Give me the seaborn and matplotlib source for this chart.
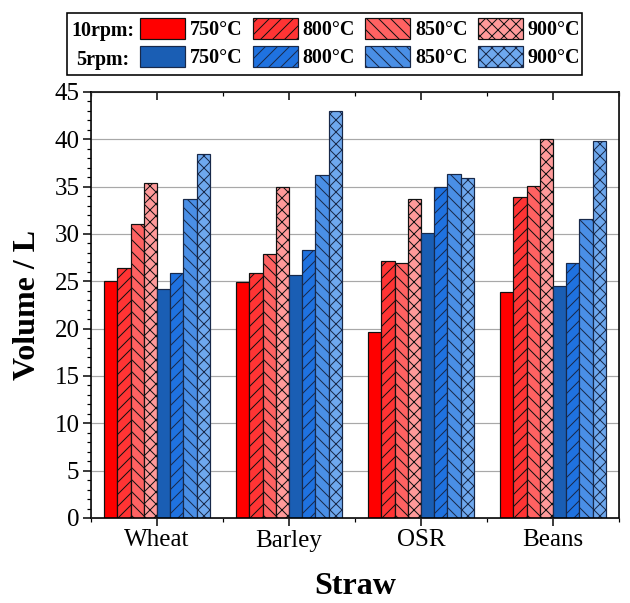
import matplotlib
matplotlib.use("Agg")
import numpy as np
import pandas as pd
import matplotlib.pyplot as plt
import seaborn as sns
from matplotlib.patches import Patch, Rectangle
from matplotlib.ticker import MultipleLocator, FixedLocator

straws = ["Wheat", "Barley", "OSR", "Beans"]
temps = ["750°C", "800°C", "850°C", "900°C"]

# gas volume (L)
v10_750 = [25.0, 24.9, 19.6, 23.9]
v10_800 = [26.4, 25.9, 27.2, 33.9]
v10_850 = [31.1, 27.9, 26.9, 35.1]
v10_900 = [35.35, 35.0, 33.7, 40.0]
v5_750 = [24.2, 25.7, 30.1, 24.5]
v5_800 = [25.9, 28.3, 35.0, 26.9]
v5_850 = [33.7, 36.2, 36.3, 31.6]
v5_900 = [38.5, 43.0, 35.9, 39.8]

red_cols = ["#ff0000", "#ff3434", "#ff6262", "#ff9a9a"]
blue_cols = ["#1a5eb4", "#1f72e0", "#4a8fe6", "#6ea8ee"]
hatches = ["", "//", "\\\\", "xx"]

series = {
    "10rpm 750°C": v10_750, "10rpm 800°C": v10_800, "10rpm 850°C": v10_850, "10rpm 900°C": v10_900,
    "5rpm 750°C": v5_750, "5rpm 800°C": v5_800, "5rpm 850°C": v5_850, "5rpm 900°C": v5_900,
}
rows = []
for name, vals in series.items():
    for s, v in zip(straws, vals):
        rows.append({"Straw": s, "series": name, "Volume": v})
df = pd.DataFrame(rows)
hue_order = list(series.keys())
palette = red_cols + blue_cols

sns.set_style("ticks")
plt.rcParams["font.family"] = ["Liberation Serif", "DejaVu Serif"]
plt.rcParams["hatch.linewidth"] = 1.0
for k in ["text.color", "axes.labelcolor", "xtick.color", "ytick.color"]:
    plt.rcParams[k] = "black"

fig = plt.figure(figsize=(630 / 72, 603 / 72), dpi=72)
ax = fig.add_axes([91 / 630, 1 - 518 / 603, 528 / 630, 426 / 603])

sns.barplot(data=df, x="Straw", y="Volume", hue="series", hue_order=hue_order,
            order=straws, palette=palette, width=0.8, gap=0, legend=False,
            saturation=1, errorbar=None, ax=ax)

for i, cont in enumerate(ax.containers):
    ec = "#111111" if i < 4 else "#18294a"
    for bar in cont:
        bar.set_hatch(hatches[i % 4])
        bar.set_edgecolor(ec)
        bar.set_linewidth(1.2)

ax.set_xlim(-0.5, 3.5)
ax.set_ylim(0, 45)
ax.yaxis.set_major_locator(MultipleLocator(5))
ax.yaxis.set_minor_locator(MultipleLocator(1))
ax.xaxis.set_minor_locator(FixedLocator(np.arange(-0.5, 4, 1)))
ax.set_axisbelow(True)
ax.grid(axis="y", which="major", color="#a8a8a8", lw=1.2)
ax.tick_params(axis="both", which="major", direction="out", length=8, width=1.5, labelsize=25)
ax.tick_params(axis="both", which="minor", direction="out", length=4, width=1.2)
for sp in ax.spines.values():
    sp.set_visible(True)
    sp.set_linewidth(1.6)
    sp.set_color("black")

top = ax.twiny()
top.set_xlim(ax.get_xlim())
top.set_xticks(range(4))
top.xaxis.set_minor_locator(FixedLocator(np.arange(-0.5, 4, 1)))
top.tick_params(axis="x", which="major", direction="in", length=8, width=1.5, labeltop=False)
top.tick_params(axis="x", which="minor", direction="in", length=4, width=1.2)

ax.set_xlabel("Straw", fontsize=32, fontweight="bold", labelpad=20)
ax.set_ylabel("Volume / L", fontsize=32, fontweight="bold", labelpad=12)

handles, labels = [], []
for j in range(4):
    handles.append(Patch(facecolor=red_cols[j], hatch=hatches[j], edgecolor="#111111", lw=1.2))
    handles.append(Patch(facecolor=blue_cols[j], hatch=hatches[j], edgecolor="#18294a", lw=1.2))
    labels += [temps[j], temps[j]]
fig.legend(handles, labels, ncol=4, loc="upper left", bbox_to_anchor=(140 / 630, 1 - 18 / 603),
           frameon=False, borderpad=0, borderaxespad=0, handlelength=2.25, handleheight=1.2,
           handletextpad=0.25, columnspacing=0.5, labelspacing=0.3,
           prop={"weight": "bold", "size": 20})
fig.text(103 / 630, 1 - 31 / 603, "10rpm:", ha="center", va="center", fontsize=20, fontweight="bold")
fig.text(103 / 630, 1 - 60 / 603, "5rpm:", ha="center", va="center", fontsize=20, fontweight="bold")
fig.patches.append(Rectangle((67 / 630, 1 - 75 / 603), 515 / 630, 62 / 603, transform=fig.transFigure,
                             fill=False, edgecolor="black", lw=1.6))

fig.savefig("out.png", dpi=72)
